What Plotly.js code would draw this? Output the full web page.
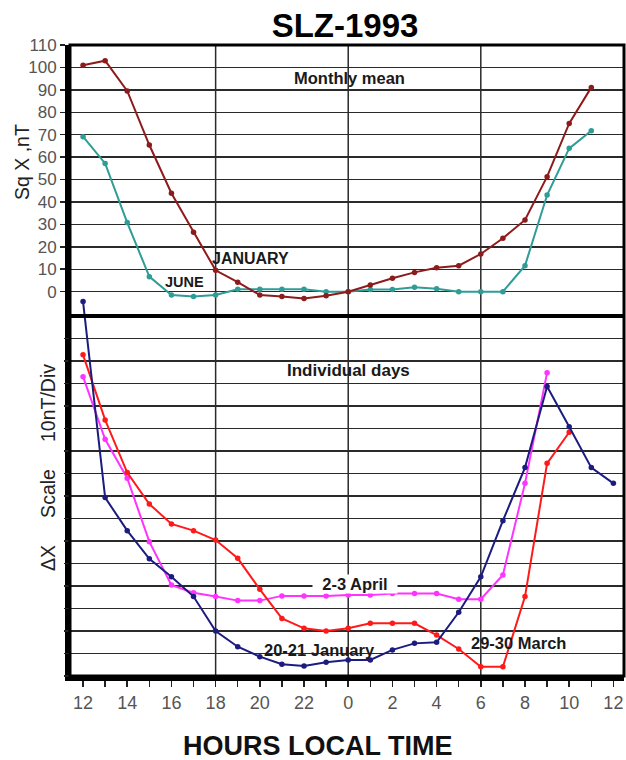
<!DOCTYPE html>
<html>
<head>
<meta charset="utf-8">
<script src="https://cdn.plot.ly/plotly-3.0.1.min.js"></script>
<style>html,body{margin:0;padding:0;background:#fff;}#chart{width:626px;height:760px;}</style>
</head>
<body>
<div id="chart"></div>
<script>
// Hours: 12 (noon) ... 35 (= 11 next day); local time labels mod 24
const monthHours = [12,13,14,15,16,17,18,19,20,21,22,23,24,25,26,27,28,29,30,31,32,33,34,35];
const january = [101,103,89.5,65.4,43.9,26.5,9.5,4.2,-1.5,-2.2,-3.1,-1.8,0,3,6,8.6,10.7,11.6,16.8,23.8,32,51.3,75,91.1];
const june    = [69.1,57.2,30.8,6.7,-1.5,-2.2,-1.5,1.1,1.1,1.1,1.1,0,0,1,1,2,1.3,0,0,0,11.6,43.1,63.9,71.8];

// Individual days: ΔX in nT above the bottom of the lower panel (10 nT / division)
const blueHours = [12,13,14,15,16,17,18,19,20,21,22,23,24,25,26,27,28,29,30,31,32,33,34,35,36];
const jan2021   = [166.4,79.3,64.6,52.1,44.1,35.3,20,13,8.6,5.2,4.4,6.1,7.1,7.1,11.6,14.5,15,28.3,44.1,69,92.6,128.6,110.8,92.6,85.6];
const redHours  = [12,13,14,15,16,17,18,19,20,21,22,23,24,25,26,27,28,29,30,31,32,33,34];
const mar2930   = [142.7,113.8,90.4,76.4,67.6,64.6,60.4,52.3,38.5,25.6,21.2,20,21.2,23.4,23.4,23.4,18.2,12,4.1,4.1,35.3,94.5,108.3];
const magHours  = [12,13,14,15,16,17,18,19,20,21,22,23,24,25,26,27,28,29,30,31,32,33];
const apr23     = [133,105.2,87.9,59.7,40.4,37,35.3,33.5,33.5,35.6,35.6,35.6,36,36,36.7,36.7,36.7,34.1,34.1,44.9,85.6,134.8];

const xTickVals = [];
const xTickText = [];
for (let h = 12; h <= 36; h++) { xTickVals.push(h); xTickText.push(h % 2 === 0 ? String(h % 24) : ''); }
const topTicks = [0,10,20,30,40,50,60,70,80,90,100,110];
const lowTicks = [0,10,20,30,40,50,60,70,80,90,100,110,120,130,140,150];

const F = 'Liberation Sans, Arial, sans-serif';
function tr(x, y, color, yaxis) {
  return {x: x, y: y, yaxis: yaxis, type: 'scatter', mode: 'lines+markers',
    line: {color: color, width: 2}, marker: {color: color, size: 5.5}, hoverinfo: 'skip', showlegend: false};
}
const data = [
  tr(monthHours, june, '#2f9c96', 'y'),
  tr(monthHours, january, '#8e1b1b', 'y'),
  tr(magHours, apr23, '#ff33ff', 'y2'),
  tr(redHours, mar2930, '#ff1a1a', 'y2'),
  tr(blueHours, jan2021, '#1c1c80', 'y2')
];

const grid = '#2a2a2a';
const shapes = [
  {type: 'line', xref: 'x', yref: 'paper', x0: 18, x1: 18, y0: 0, y1: 1, line: {color: grid, width: 1.5}, layer: 'below'},
  {type: 'line', xref: 'x', yref: 'paper', x0: 24, x1: 24, y0: 0, y1: 1, line: {color: grid, width: 1.5}, layer: 'below'},
  {type: 'line', xref: 'x', yref: 'paper', x0: 30, x1: 30, y0: 0, y1: 1, line: {color: grid, width: 1.5}, layer: 'below'},
  {type: 'line', xref: 'paper', yref: 'y2', x0: 0, x1: 1, y0: 160, y1: 160, line: {color: '#000', width: 4}},
  {type: 'rect', xref: 'paper', yref: 'paper', x0: 0, x1: 1, y0: 0, y1: 1, line: {color: '#000', width: 3}}
];

const lab = (t, x, y, yref, size, extra) => Object.assign({text: '<b>' + t + '</b>', x: x, y: y, xref: 'x', yref: yref,
  xanchor: 'center', yanchor: 'middle', showarrow: false, font: {family: F, size: size || 16.5, color: '#1a1a1a'}}, extra || {});

const sp = '\u00a0\u00a0\u00a0\u00a0\u00a0';
const annotations = [
  lab('Monthly mean', 24.05, (291.7 - 78) / 2.2427, 'y', 16.5),
  lab('JANUARY', 19.6, (291.7 - 259) / 2.2427, 'y', 16),
  lab('JUNE', 16.6, (291.7 - 282.5) / 2.2427, 'y', 14.5),
  lab('Individual days', 24.0, (676 - 371) / 2.25, 'y2', 17),
  lab('2-3 April', 24.3, (676 - 584) / 2.25, 'y2', 16.5, {bgcolor: '#fff', borderpad: 0, width: 84, height: 18}),
  lab('20-21 January', 22.7, (676 - 650) / 2.25, 'y2', 16.5),
  lab('29-30 March', 31.7, (676 - 643) / 2.25, 'y2', 16.5),
  {text: 'Sq X ,nT', xref: 'paper', yref: 'paper', x: (22 - 70) / 554, y: (676 - 162) / 631, textangle: -90,
   xanchor: 'center', yanchor: 'middle', showarrow: false, font: {family: F, size: 19.5, color: '#222'}},
  {text: '\u0394X' + sp + 'Scale' + sp + '10nT/Div', xref: 'paper', yref: 'paper', x: (48 - 70) / 554, y: (676 - 468) / 631, textangle: -90,
   xanchor: 'center', yanchor: 'middle', showarrow: false, font: {family: F, size: 19.5, color: '#222'}},
  {text: '<b>HOURS LOCAL TIME</b>', xref: 'paper', yref: 'paper', x: (318 - 70) / 554, y: (676 - 746) / 631,
   xanchor: 'center', yanchor: 'middle', showarrow: false, font: {family: F, size: 27, color: '#111'}}
];

const layout = {
  width: 626, height: 760,
  margin: {l: 70, r: 2, t: 45, b: 84},
  paper_bgcolor: '#fff', plot_bgcolor: '#fff',
  title: {text: '<b>SLZ-1993</b>', x: 345 / 626, xanchor: 'center', y: 1 - 25 / 760, yanchor: 'middle', yref: 'container',
          font: {family: F, size: 33, color: '#000'}},
  xaxis: {range: [11.41, 36.48], tickvals: xTickVals, ticktext: xTickText, ticks: 'outside', ticklen: 6, tickwidth: 1.5,
          tickcolor: '#222', showgrid: false, zeroline: false, showline: true, linecolor: '#000', linewidth: 5,
          ticklabelstandoff: 0, tickfont: {family: F, size: 18, color: '#555'}, fixedrange: true},
  yaxis: {range: [-171.4, 110], tickvals: topTicks, ticks: 'outside', ticklen: 5, tickwidth: 1.5, tickcolor: '#222',
          showgrid: true, gridcolor: grid, gridwidth: 1.4, zeroline: false, showline: true, linecolor: '#000', linewidth: 5,
          tickfont: {family: F, size: 17, color: '#555'}, fixedrange: true},
  yaxis2: {range: [0, 280.4], overlaying: 'y', side: 'left', tickvals: lowTicks, ticktext: lowTicks.map(() => ''),
          ticks: 'outside', ticklen: 5, tickwidth: 1.5, tickcolor: '#222', showgrid: true, gridcolor: grid, gridwidth: 1.4,
          zeroline: false, showline: false, fixedrange: true},
  shapes: shapes,
  annotations: annotations
};
Plotly.newPlot('chart', data, layout, {staticPlot: true, displayModeBar: false});
</script>
</body>
</html>
